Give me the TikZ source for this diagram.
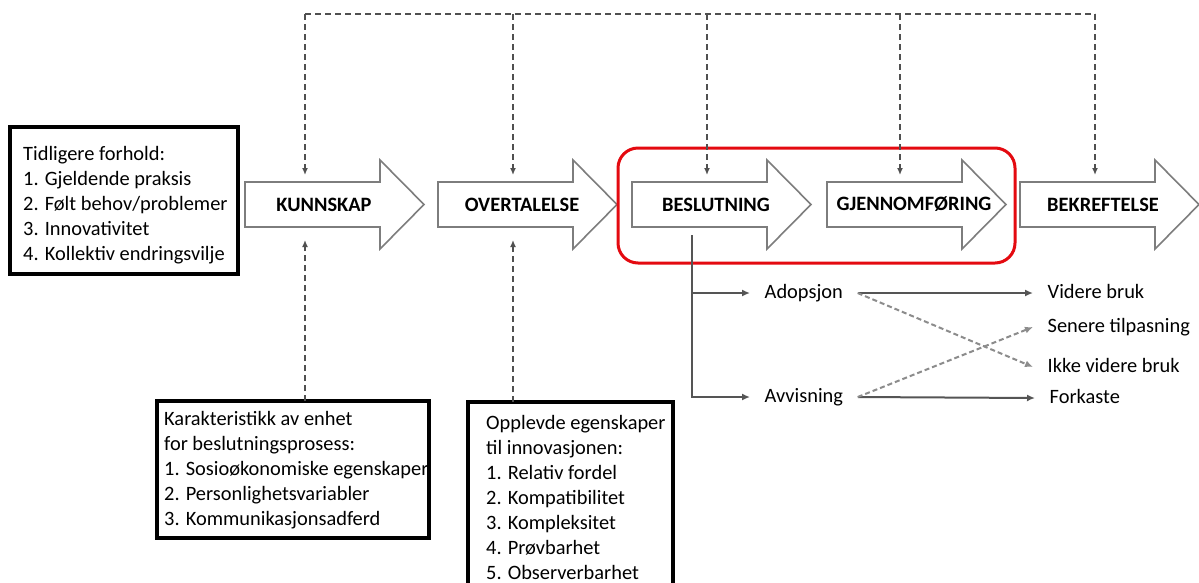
\documentclass[tikz,border=0pt]{standalone}
\usepackage{fontspec}
\setmainfont{Carlito}
\usetikzlibrary{arrows.meta,calc}

\definecolor{stagegray}{RGB}{125,125,125}
\definecolor{fbgray}{RGB}{80,80,80}
\definecolor{linegray}{RGB}{85,85,85}
\definecolor{crossgray}{RGB}{140,140,140}
\definecolor{phasered}{RGB}{228,10,16}

\tikzset{
  stagebody/.style={inner sep=0pt, outer sep=0pt, minimum width=135pt, minimum height=45pt},
  stagearrow/.style={draw=stagegray, line width=1.6pt, fill=white, line join=miter},
  stagelabel/.style={font=\fontsize{20.4}{24}\selectfont\bfseries, inner sep=0pt},
  infobox/.style={fill=white, inner sep=0pt, outer sep=0pt},
  boxline/.style={draw=black, line width=3.5pt},
  listtext/.style={font=\fontsize{20.4}{25}\selectfont, align=left, inner sep=0pt, anchor=west},
  phasebox/.style={draw=phasered, line width=3pt, rounded corners=20pt, inner sep=0pt},
  feedback/.style={draw=fbgray, line width=1.8pt, dash pattern=on 6pt off 4pt},
  fbarrow/.style={feedback, -{Latex[length=7pt,width=6pt]}},
  outcome/.style={font=\fontsize{20.4}{24}\selectfont, text height=14pt, text depth=4pt,
    inner ysep=2pt, inner xsep=14.5pt, anchor=west},
  branch/.style={draw=linegray, line width=2pt, -{Latex[length=8pt,width=7pt]}},
  crossing/.style={draw=crossgray, line width=2pt, dash pattern=on 5pt off 3pt,
    -{Latex[length=8pt,width=7pt]}},
}

% block arrow: #1 name, #2 left x of the body, #3 label, #4 label offset
\newcommand\drawstage[4]{%
  \node[stagebody] (#1) at (#2+67.5,204.5) {};
  \draw[stagearrow] (#1.north west) -- (#1.north east) -- ++(0,-22)
    -- ($(#1.east)+(44,0)$) -- ($(#1.south east)+(0,22)$)
    -- (#1.south east) -- (#1.south west) -- cycle;
  \node[stagelabel] (#1L) at ($(#1.center)+(#4,0)$) {#3};
}

\begin{document}
\begin{tikzpicture}[x=1pt,y=-1pt]
\clip (0,0) rectangle (1199,582);
\fill[white] (0,0) rectangle (1199,582);

% stages
\drawstage{kun}{245}{KUNNSKAP}{11.5}
\drawstage{ove}{438}{OVERTALELSE}{16.5}
\drawstage{bes}{632}{BESLUTNING}{16.5}
\drawstage{gje}{827}{GJENNOMFØRING}{19.5}
\drawstage{bek}{1020}{BEKREFTELSE}{15.5}

% decision and implementation frame
\node[phasebox, minimum width=397pt, minimum height=115pt] (phase) at (816.5,205.5) {};

% feedback loop along the top
\coordinate (fbK) at (305,14);
\coordinate (fbO) at (513,14);
\coordinate (fbB) at (707,14);
\coordinate (fbG) at (900,14);
\coordinate (fbE) at (1095,14);
\draw[feedback] (fbK) -- (fbE);
\foreach \c/\n in {fbK/kun, fbO/ove, fbB/bes, fbG/gje, fbE/bek}
  \draw[fbarrow, shorten >=7pt] (\c) -- (\n.north -| \c);

% prior conditions
\node[infobox, minimum width=228pt, minimum height=147pt] (pri) at (124,200.5) {};
\node[listtext] (priT) at (23,205) {Tidligere forhold:\\1. Gjeldende praksis\\2. Følt behov/problemer\\3. Innovativitet\\4. Kollektiv endringsvilje};
\draw[boxline] (pri.north west) rectangle (pri.south east);

% characteristics of the decision-making unit
\node[infobox, minimum width=272pt, minimum height=137pt] (kar) at (293,469.5) {};
\begin{scope}
  \clip (kar.north west) rectangle (kar.south east);
  \node[listtext] (karT) at (164,470) {Karakteristikk av enhet\\for beslutningsprosess:\\1. Sosioøkonomiske egenskaper\\2. Personlighetsvariabler\\3. Kommunikasjonsadferd};
\end{scope}
\draw[boxline] (kar.north west) rectangle (kar.south east);

% perceived characteristics of the innovation
\node[infobox, minimum width=205pt, minimum height=200pt] (opp) at (570.5,502) {};
\node[listtext] (oppT) at (486,497) {Opplevde egenskaper\\til innovasjonen:\\1. Relativ fordel\\2. Kompatibilitet\\3. Kompleksitet\\4. Prøvbarhet\\5. Observerbarhet};
\draw[boxline] (opp.north west) rectangle (opp.south east);

\draw[fbarrow, shorten >=13pt] (kar.north -| fbK) -- (kun.south -| fbK);
\draw[fbarrow, shorten >=13pt] (opp.north -| fbO) -- (ove.south -| fbO);

% outcomes of the decision
\coordinate (split) at (692,235);
\node[outcome] (adop) at (750,293) {Adopsjon};
\node[outcome] (avv) at (750,397) {Avvisning};
\node[outcome] (vid) at (1033,293) {Videre bruk};
\node[outcome] (sen) at (1033,327) {Senere tilpasning};
\node[outcome] (ikke) at (1033,367) {Ikke videre bruk};
\node[outcome] (forkaste) at (1035,398) {Forkaste};

\draw[branch] (split) |- (adop.west);
\draw[branch] (split) |- (avv.west);
\draw[branch] (adop.east) -- (vid.west);
\draw[branch] (avv.east) -- (forkaste.west);
\draw[crossing] (adop.east) -- (ikke.west);
\draw[crossing] (avv.east) -- (sen.west);
\end{tikzpicture}
\end{document}
